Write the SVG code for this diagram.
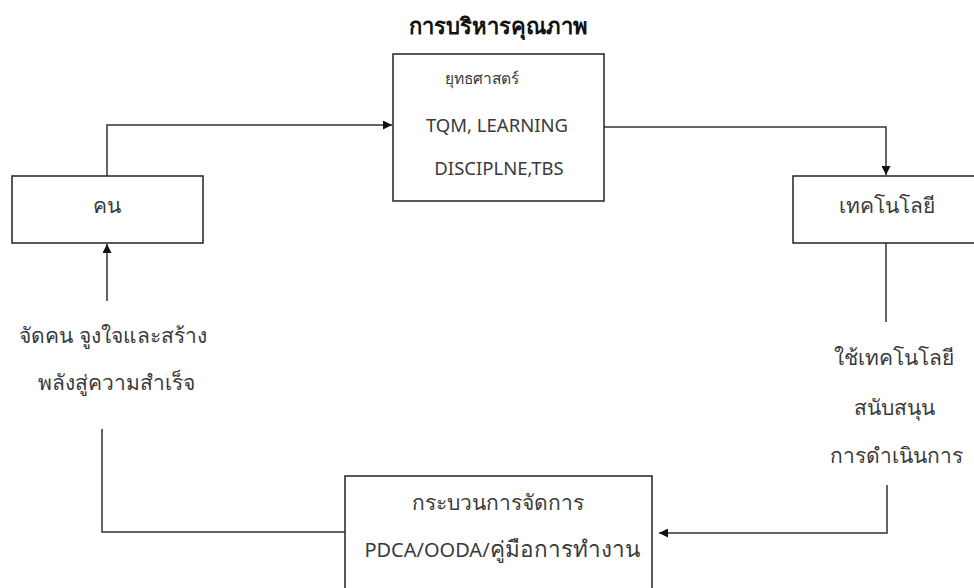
<svg xmlns="http://www.w3.org/2000/svg" width="974" height="588" viewBox="0 0 974 588">
<style>
.box{fill:#fff;stroke:#222;stroke-width:1.5}
.t{font-family:"Noto Sans","DejaVu Sans",sans-serif;font-size:21px;fill:#3a3a3a;text-anchor:middle}
.lat{font-size:18.5px}
.title{font-weight:bold;fill:#111;font-size:22px}
.c{fill:none;stroke:#333;stroke-width:1.5}
</style>
<defs>
<marker id="ah" viewBox="0 0 10 10" refX="10" refY="5" markerWidth="9" markerHeight="9" markerUnits="userSpaceOnUse" orient="auto">
<path d="M0,0 L10,5 L0,10 z" fill="#111"/>
</marker>
</defs>
<rect width="974" height="588" fill="#fff"/>
<g id="connectors">
<path class="c" d="M107,176 V125 H392" marker-end="url(#ah)"/>
<path class="c" d="M604,127 H886 V175" marker-end="url(#ah)"/>
<path class="c" d="M886,243 V322"/>
<path class="c" d="M887,485 V533 H659" marker-end="url(#ah)"/>
<path class="c" d="M345,532 H102 V429"/>
<path class="c" d="M107,301 V244" marker-end="url(#ah)"/>
</g>
<g id="title">
<text class="t title" x="498" y="34">การบริหารคุณภาพ</text>
</g>
<g id="node-quality">
<rect class="box" x="393" y="54" width="211" height="147"/>
<text class="t" x="482" y="84" style="font-size:15.5px">ยุทธศาสตร์</text>
<text class="t lat" x="497" y="132">TQM, LEARNING</text>
<text class="t lat" x="499" y="175">DISCIPLNE,TBS</text>
</g>
<g id="node-people">
<rect class="box" x="12" y="176" width="191" height="67"/>
<text class="t" x="107" y="213">คน</text>
</g>
<g id="node-tech">
<rect class="box" x="793" y="176" width="190" height="67"/>
<text class="t" x="887" y="213">เทคโนโลยี</text>
</g>
<g id="node-process">
<rect class="box" x="345" y="476" width="307" height="120"/>
<text class="t" x="498" y="510">กระบวนการจัดการ</text>
<text class="t" x="502" y="557"><tspan style="font-size:20px">PDCA/OODA/</tspan><tspan style="font-size:22.5px">คู่มือการทำงาน</tspan></text>
</g>
<g id="label-people">
<text class="t" x="113" y="343">จัดคน จูงใจและสร้าง</text>
<text class="t" x="116" y="390">พลังสู่ความสำเร็จ</text>
</g>
<g id="label-tech">
<text class="t" x="894" y="365">ใช้เทคโนโลยี</text>
<text class="t" x="894" y="415">สนับสนุน</text>
<text class="t" x="896" y="463">การดำเนินการ</text>
</g>
</svg>
